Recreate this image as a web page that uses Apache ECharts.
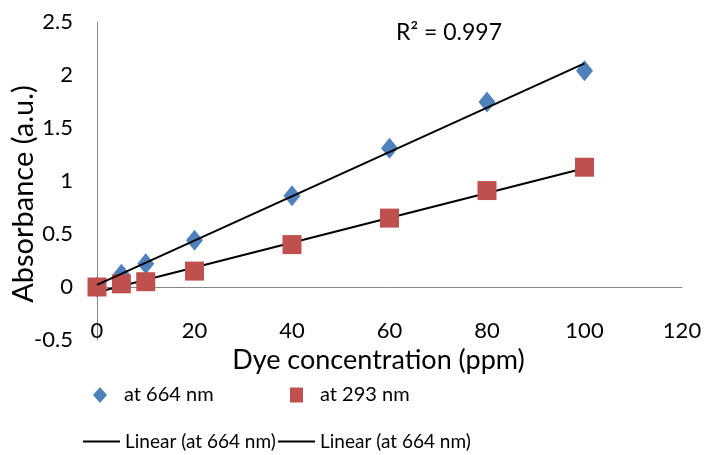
<!DOCTYPE html>
<html>
<head>
<meta charset="utf-8">
<script src="https://cdn.jsdelivr.net/npm/echarts@6/dist/echarts.min.js"></script>
<style>
html, body { margin: 0; padding: 0; background: #fff; }
#chart { width: 705px; height: 455px; }
</style>
</head>
<body>
<div id="chart"></div>
<script>
var chart = echarts.init(document.getElementById('chart'));

// concentrations (ppm)
var conc = [0, 5, 10, 20, 40, 60, 80, 100];
var abs664 = [0, 0.12, 0.22, 0.44, 0.86, 1.31, 1.745, 2.04];
var abs293 = [0, 0.03, 0.05, 0.15, 0.40, 0.65, 0.91, 1.13];
// trend line end points
var trend664 = [[0, 0.02], [100, 2.11]];
var trend293 = [[0, -0.05], [100, 1.12]];

function pairs(xs, ys) {
    return xs.map(function (x, i) { return [x, ys[i]]; });
}

var font = 'Lato';
function legendText(size, gap) {
    return { fontSize: size, color: '#000', fontFamily: font, padding: [0, 0, 0, gap] };
}
var option = {
    animation: false,
    textStyle: { fontFamily: font },
    grid: { left: 97, right: 23, top: 22, bottom: 115 },
    xAxis: {
        type: 'value',
        min: 0, max: 120, interval: 20,
        name: 'Dye concentration (ppm)',
        nameLocation: 'middle',
        nameGap: 4,
        nameTextStyle: { fontSize: 27, color: '#000', fontFamily: font, padding: [0, 22, 0, 0] },
        axisLine: { onZero: true, lineStyle: { color: '#868686', width: 1 } },
        axisTick: { show: false },
        axisLabel: { margin: -20, fontSize: 22, color: '#000', fontFamily: font },
        splitLine: { show: false }
    },
    yAxis: {
        type: 'value',
        min: -0.5, max: 2.5, interval: 0.5,
        axisLine: { show: true, lineStyle: { color: '#868686', width: 1 } },
        axisTick: { show: false },
        axisLabel: { margin: 24, fontSize: 22, color: '#000', fontFamily: font },
        splitLine: { show: false }
    },
    legend: [
        {
            data: ['at 664 nm'], left: 93, top: 385, padding: 0,
            itemWidth: 14, itemHeight: 16, textStyle: legendText(20, 12)
        },
        {
            data: ['at 293 nm'], left: 290, top: 385, padding: 0,
            itemWidth: 13, itemHeight: 15, textStyle: legendText(20, 12)
        },
        {
            data: [{ name: 'Linear (at 664 nm)', icon: 'rect' }], left: 83, top: 432, padding: 0,
            itemWidth: 37, itemHeight: 2, textStyle: legendText(19, 0)
        },
        {
            data: [{ name: 'Linear (at 664 nm)', icon: 'rect' }], left: 278, top: 432, padding: 0,
            itemWidth: 37, itemHeight: 2, textStyle: legendText(19, 0)
        }
    ],
    graphic: [
        {
            type: 'text', x: 449, y: 33,
            style: {
                text: 'R² = 0.997', fontSize: 23, fill: '#000', fontFamily: font,
                align: 'center', verticalAlign: 'middle'
            }
        },
        {
            type: 'text', x: 24, y: 194, rotation: Math.PI / 2,
            style: {
                text: 'Absorbance (a.u.)', fontSize: 29, fill: '#000', fontFamily: font,
                align: 'center', verticalAlign: 'middle'
            }
        }
    ],
    series: [
        {
            name: 'Linear (at 664 nm)', type: 'line', data: trend293,
            symbol: 'none', lineStyle: { color: '#000', width: 2 }, itemStyle: { color: '#000' }, z: 1
        },
        {
            name: 'at 664 nm', type: 'scatter', data: pairs(conc, abs664),
            symbol: 'diamond', symbolSize: [17, 21],
            itemStyle: { color: '#4F81BD', opacity: 1 }, z: 2
        },
        {
            name: 'at 293 nm', type: 'scatter', data: pairs(conc, abs293),
            symbol: 'rect', symbolSize: 19,
            itemStyle: { color: '#C0504D', opacity: 1 }, z: 3
        },
        {
            name: 'Linear (at 664 nm)', type: 'line', data: trend664,
            symbol: 'none', lineStyle: { color: '#000', width: 2 }, itemStyle: { color: '#000' }, z: 4
        }
    ]
};
chart.setOption(option);
</script>
</body>
</html>
